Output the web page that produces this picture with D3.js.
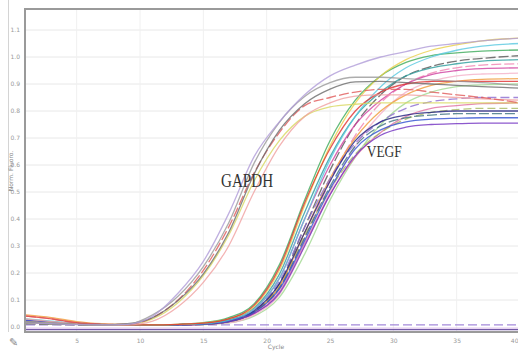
<!DOCTYPE html>
<html>
<head>
<meta charset="utf-8">
<script src="https://cdn.jsdelivr.net/npm/d3@7"></script>
<style>
  body { margin: 0; background: #fff; }
  #chartContainer { width: 518px; height: 351px; overflow: hidden; }
</style>
</head>
<body>
<div id="chartContainer"></div>
<script>
const cycles = [1, 3, 5, 7, 9, 11, 13, 15, 17, 19, 21, 23, 25, 27, 29, 31, 33, 35, 37, 40];

// tick labels
const yTicks = [0.0, 0.1, 0.2, 0.3, 0.4, 0.5, 0.6, 0.7, 0.8, 0.9, 1.0, 1.1];
const xTicks = [5, 10, 15, 20, 25, 30, 35, 40];

// GAPDH runs
const gapdh1 = [.02, .015, .01, .008, .01, .045, .114, .224, .385, .606, .758, .854, .905, .925, .925, .92, .915, .91, .905, .895];
const gapdh2 = [.018, .012, .01, .008, .012, .035, .098, .197, .35, .566, .728, .827, .881, .908, .91, .905, .90, .895, .89, .885];
const gapdh3 = [.015, .012, .009, .008, .01, .04, .125, .243, .42, .63, .76, .86, .93, .97, 1.0, 1.02, 1.04, 1.05, 1.06, 1.07];
const gapdh4 = [.04, .03, .015, .01, .01, .035, .10, .21, .37, .57, .72, .82, .85, .87, .88, .88, .87, .86, .85, .83];
const gapdh5 = [.02, .015, .01, .008, .01, .03, .09, .19, .34, .54, .69, .78, .815, .825, .83, .83, .83, .83, .83, .83];
const gapdh6 = [.03, .02, .012, .008, .008, .022, .075, .165, .30, .50, .67, .78, .83, .855, .86, .86, .855, .85, .845, .84];

// VEGF runs
const vegf1 = [.015, .012, .01, .008, .008, .008, .01, .015, .03, .075, .21, .45, .67, .83, .93, .99, 1.025, 1.045, 1.06, 1.07];
const vegf2 = [.03, .022, .014, .01, .008, .008, .009, .012, .025, .065, .18, .40, .62, .78, .89, .96, 1.0, 1.025, 1.04, 1.05];
const vegf3 = [.015, .012, .01, .008, .008, .008, .01, .016, .035, .085, .23, .47, .69, .84, .93, .98, 1.005, 1.015, 1.022, 1.026];
const vegf4 = [.012, .01, .008, .007, .007, .007, .008, .01, .02, .055, .16, .37, .58, .75, .86, .93, .965, .985, .995, 1.005];
const vegf5 = [.02, .015, .01, .008, .008, .008, .009, .013, .03, .07, .195, .425, .63, .78, .87, .93, .96, .975, .985, .99];
const vegf6 = [.02, .015, .01, .008, .008, .008, .008, .01, .02, .05, .14, .33, .54, .71, .83, .90, .94, .96, .97, .975];
const vegf7 = [.025, .018, .012, .009, .008, .008, .009, .012, .025, .065, .18, .40, .60, .75, .84, .90, .935, .95, .957, .96];
const vegf8 = [.015, .012, .01, .008, .008, .008, .008, .01, .015, .045, .12, .30, .50, .67, .79, .87, .91, .93, .937, .94];
const vegf9 = [.045, .035, .02, .012, .009, .008, .009, .011, .02, .055, .15, .35, .55, .70, .80, .86, .895, .91, .917, .92];
const vegf10 = [.015, .012, .01, .008, .008, .008, .008, .009, .015, .04, .11, .27, .47, .63, .75, .83, .87, .89, .897, .90];
const vegf11 = [.02, .015, .01, .008, .008, .008, .009, .012, .025, .06, .17, .37, .55, .68, .76, .81, .835, .845, .85, .85];
const vegf12 = [.02, .015, .01, .008, .008, .008, .008, .01, .02, .05, .13, .31, .49, .63, .72, .78, .81, .82, .827, .83];
const vegf13 = [.015, .012, .01, .008, .008, .008, .009, .011, .02, .055, .15, .34, .51, .64, .72, .77, .795, .805, .81, .81];
const vegf14 = [.02, .015, .01, .008, .008, .008, .009, .011, .02, .055, .145, .33, .52, .67, .745, .775, .785, .79, .79, .79];
const vegf15 = [.025, .018, .012, .009, .008, .008, .009, .011, .02, .055, .14, .32, .51, .66, .73, .76, .77, .773, .775, .775];
const vegf16 = [.02, .015, .01, .008, .008, .008, .008, .01, .02, .05, .125, .30, .49, .635, .71, .74, .75, .753, .755, .755];
const vegf17 = [.015, .012, .01, .008, .008, .008, .009, .012, .025, .06, .16, .35, .54, .69, .76, .785, .795, .80, .80, .80];
const vegf18 = [.04, .03, .016, .01, .008, .008, .01, .014, .03, .08, .22, .46, .66, .80, .87, .90, .91, .91, .91, .91];

// no-template controls (flat)
const ntc1 = [.008, .008, .008, .008, .008, .008, .008, .008, .008, .008, .008, .008, .008, .008, .008, .008, .008, .008, .008, .008];
const ntc2 = [-.004, -.004, -.004, -.004, -.004, -.004, -.004, -.004, -.004, -.004, -.004, -.004, -.004, -.004, -.004, -.004, -.004, -.004, -.004, -.004];
const ntc3 = [-.01, -.01, -.01, -.01, -.01, -.01, -.01, -.01, -.01, -.01, -.01, -.01, -.01, -.01, -.01, -.01, -.01, -.01, -.01, -.01];

// series list: values + colour + dash
const runs = [
    { v: ntc3, c: "#503090", d: null },
    { v: ntc2, c: "#d8b8e8", d: null },
    { v: ntc1, c: "#8c6cd0", d: "9,4" },
    { v: vegf10, c: "#a0d890", d: null },
    { v: vegf8, c: "#f4b0c8", d: null },
    { v: vegf6, c: "#f080b0", d: "10,3" },
    { v: vegf12, c: "#e070a0", d: null },
    { v: vegf13, c: "#a8b860", d: "8,4" },
    { v: vegf4, c: "#555555", d: "10,3" },
    { v: vegf5, c: "#2c9c9c", d: null },
    { v: vegf7, c: "#d040a0", d: null },
    { v: vegf9, c: "#f09a3a", d: null },
    { v: vegf11, c: "#8c6cd0", d: "9,4" },
    { v: vegf14, c: "#3c7080", d: "10,3" },
    { v: vegf15, c: "#3050d0", d: null },
    { v: vegf16, c: "#7030c0", d: null },
    { v: vegf17, c: "#202080", d: null },
    { v: vegf3, c: "#3caa5a", d: null },
    { v: vegf2, c: "#58c8e0", d: null },
    { v: vegf1, c: "#e8d048", d: null },
    { v: vegf18, c: "#e03030", d: null },
    { v: gapdh5, c: "#d8d860", d: null },
    { v: gapdh6, c: "#f0a0a0", d: null },
    { v: gapdh4, c: "#e05858", d: "10,3" },
    { v: gapdh2, c: "#6a6a6a", d: null },
    { v: gapdh1, c: "#999999", d: null },
    { v: gapdh3, c: "#b09cd8", d: null }
];

function drawChart(containerId) {
    const width = 518, height = 351;

    const svg = d3.select(`#${containerId}`)
        .append("svg")
        .attr("width", width)
        .attr("height", height);

    svg.append("rect").attr("width", width).attr("height", height).attr("fill", "#fff");

    // soft blur like the source photo
    const defs = svg.append("defs");
    defs.append("filter").attr("id", "soft")
        .append("feGaussianBlur").attr("stdDeviation", 0.6);

    // scales
    const xScale = d3.scaleLinear().domain([1, 40]).range([26, 520]);
    const yScale = d3.scaleLinear().domain([0, 1.1]).range([327, 30]);

    // window edge line on the far left
    svg.append("line")
        .attr("x1", 8.5).attr("x2", 8.5).attr("y1", 0).attr("y2", 332)
        .attr("stroke", "#d4d4d4").attr("stroke-width", 1);

    // grid
    svg.append("g").selectAll("line")
        .data(yTicks.slice(1))
        .enter().append("line")
        .attr("x1", 26).attr("x2", 525)
        .attr("y1", d => yScale(d)).attr("y2", d => yScale(d))
        .attr("stroke", "#e8e8e8").attr("stroke-width", 1);

    svg.append("g").selectAll("line")
        .data(xTicks)
        .enter().append("line")
        .attr("x1", d => xScale(d)).attr("x2", d => xScale(d))
        .attr("y1", 10).attr("y2", 331)
        .attr("stroke", "#f0f0f0").attr("stroke-width", 1);

    // curves
    const line = d3.line()
        .x((d, i) => xScale(cycles[i]))
        .y(d => yScale(d))
        .curve(d3.curveMonotoneX);

    const curves = svg.append("g").attr("filter", "url(#soft)");
    curves.selectAll("path")
        .data(runs)
        .enter().append("path")
        .attr("d", d => line(d.v))
        .attr("fill", "none")
        .attr("stroke", d => d.c)
        .attr("stroke-width", 1.3)
        .attr("stroke-opacity", 0.8)
        .attr("stroke-dasharray", d => d.d);

    // frame
    svg.append("rect")
        .attr("x", 25).attr("y", 9)
        .attr("width", 505).attr("height", 323)
        .attr("fill", "none")
        .attr("stroke", "#9a9a9a")
        .attr("stroke-width", 2);

    // axes, labels only
    const yAxis = svg.append("g")
        .attr("transform", "translate(23,0)")
        .call(d3.axisLeft(yScale).tickValues(yTicks).tickSize(0).tickFormat(d3.format(".1f")));
    yAxis.select(".domain").remove();
    yAxis.selectAll("text")
        .attr("font-family", "DejaVu Sans").attr("font-size", 6).attr("fill", "#999");

    const xAxis = svg.append("g")
        .attr("transform", "translate(0,336)")
        .call(d3.axisBottom(xScale).tickValues(xTicks).tickSize(0));
    xAxis.select(".domain").remove();
    xAxis.selectAll("text")
        .attr("font-family", "DejaVu Sans").attr("font-size", 6).attr("fill", "#999");
    // keep the last label inside the window
    xAxis.selectAll(".tick").filter(d => d === 40).select("text")
        .attr("text-anchor", "end").attr("x", -2);

    svg.append("text")
        .attr("x", 276).attr("y", 349)
        .attr("text-anchor", "middle")
        .attr("font-family", "DejaVu Sans").attr("font-size", 6).attr("fill", "#888")
        .text("Cycle");

    svg.append("text")
        .attr("transform", "translate(13,171) rotate(-90)")
        .attr("text-anchor", "middle")
        .attr("font-family", "DejaVu Sans").attr("font-size", 6).attr("fill", "#888")
        .text("Norm. Fluoro.");

    // small pencil icon in the corner
    svg.append("text")
        .attr("x", 9).attr("y", 346)
        .attr("font-family", "DejaVu Sans").attr("font-size", 11).attr("fill", "#8a8a8a")
        .text("\u270E");

    // gene labels
    svg.append("text")
        .attr("x", xScale(16.4)).attr("y", yScale(0.519))
        .attr("font-family", "Liberation Serif").attr("font-size", 19)
        .attr("textLength", 52).attr("lengthAdjust", "spacingAndGlyphs")
        .attr("fill", "#333")
        .text("GAPDH");

    svg.append("text")
        .attr("x", xScale(27.9)).attr("y", yScale(0.63))
        .attr("font-family", "Liberation Serif").attr("font-size", 17)
        .attr("textLength", 35).attr("lengthAdjust", "spacingAndGlyphs")
        .attr("fill", "#333")
        .text("VEGF");
}

drawChart("chartContainer");
</script>
</body>
</html>
